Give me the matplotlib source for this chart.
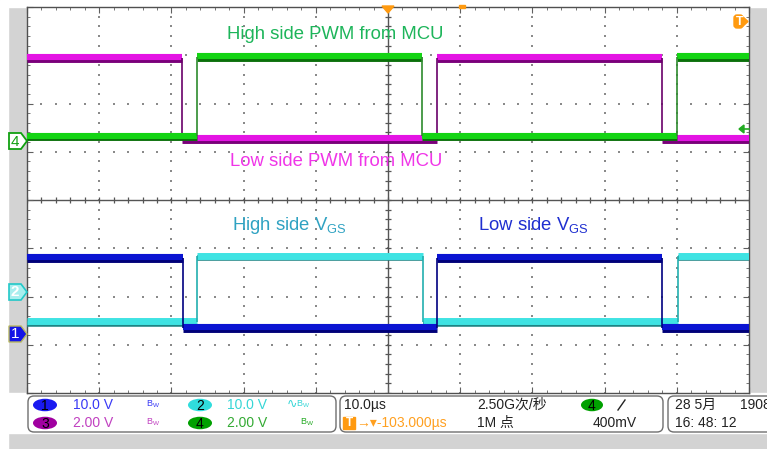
"""
Scope capture: gate drive PWM from the MCU and the resulting V_GS
(high side / low side), redrawn with matplotlib.
"""
import numpy as np
import matplotlib
matplotlib.use('Agg')
import matplotlib.pyplot as plt
from matplotlib.patches import Rectangle, Polygon, FancyBboxPatch, Ellipse

plt.rcParams['font.family'] = ['Liberation Sans', 'Noto Sans CJK SC', 'DejaVu Sans']

# ── Data: edge times (µs, 10 µs/div, centre = 0) and levels (divisions) ──────
ch1_edges = [-28.4, 6.8, 37.9]      # blue, low side V_GS, starts high
ch1_levels = (-2.65, -1.20)
ch2_edges = [-26.4, 4.8, 40.1]      # cyan, high side V_GS, starts low
ch2_levels = (-2.53, -1.17)
ch3_edges = [-28.5, 6.8, 37.9]      # magenta, low side PWM, starts high
ch3_levels = (1.27, 2.94)
ch4_edges = [-26.5, 4.7, 40.0]      # green, high side PWM, starts low
ch4_levels = (1.32, 2.96)

T_MIN, T_MAX = -50, 50
DIV_MIN, DIV_MAX = -4, 4

GRID_DOT = '#8a8a8a'
AXIS_COL = '#555555'


def draw_trace(ax, edges, levels, start_high, bright, dark, edge_col, lw=4.4, z=3):
    bounds = [T_MIN] + list(edges) + [T_MAX]
    state = start_high
    lo, hi = levels
    for a, b in zip(bounds[:-1], bounds[1:]):
        lvl = hi if state else lo
        ax.hlines(lvl - 0.04, a, b, color=dark, lw=lw * 0.8, zorder=z)
        ax.hlines(lvl + 0.015, a, b, color=bright, lw=lw, zorder=z + 0.1)
        state = not state
    for e in edges:
        ax.vlines(e, lo, hi, color=edge_col, lw=1.2, zorder=z + 0.2)


fig = plt.figure(figsize=(7.67, 4.49), dpi=100)
fig.patch.set_facecolor('#D3D3D3')

# background in pixel coordinates
bg = fig.add_axes([0, 0, 1, 1], zorder=0)
bg.set_xlim(0, 767)
bg.set_ylim(449, 0)
bg.axis('off')
bg.add_patch(Rectangle((0, 0), 8, 449, color='white'))
bg.add_patch(Rectangle((0, 0), 767, 7, color='white'))
bg.add_patch(Rectangle((8, 393), 759, 40, color='white'))

# ── Graticule ────────────────────────────────────────────────────────────────
ax = fig.add_axes([27 / 767, 56 / 449, 722 / 767, 386 / 449], zorder=1)
ax.set_xlim(T_MIN, T_MAX)
ax.set_ylim(DIV_MIN, DIV_MAX)
ax.set_facecolor('white')
for s in ax.spines.values():
    s.set_color('#505050')
    s.set_linewidth(1.0)
ax.set_xticks(np.arange(T_MIN, T_MAX + 1, 10))
ax.set_xticks(np.arange(T_MIN, T_MAX + 1, 2), minor=True)
ax.set_yticks(np.arange(DIV_MIN, DIV_MAX + 1, 1))
ax.set_yticks(np.arange(DIV_MIN, DIV_MAX + 0.01, 0.2), minor=True)
ax.tick_params(which='both', direction='in', top=True, right=True,
               labelbottom=False, labelleft=False, color='#606060')
ax.tick_params(which='major', length=4)
ax.tick_params(which='minor', length=2.5)

# dotted grid lines
minor_y = np.arange(DIV_MIN, DIV_MAX + 0.01, 0.2)
minor_x = np.arange(T_MIN, T_MAX + 0.01, 2)
for gx in range(-40, 41, 10):
    if gx != 0:
        ax.scatter(np.full_like(minor_y, gx), minor_y, s=1.2, marker='s',
                   color=GRID_DOT, linewidths=0, zorder=1)
for gy in range(-3, 4):
    if gy != 0:
        ax.scatter(minor_x, np.full_like(minor_x, gy), s=1.2, marker='s',
                   color=GRID_DOT, linewidths=0, zorder=1)

# centre cross with small ticks
ax.axhline(0, color=AXIS_COL, lw=1.0, zorder=1)
ax.axvline(0, color=AXIS_COL, lw=1.0, zorder=1)
ax.vlines(minor_x, -0.07, 0.07, color=AXIS_COL, lw=0.9, zorder=1)
ax.hlines(minor_y, -0.45, 0.45, color=AXIS_COL, lw=0.9, zorder=1)

# ── Traces ───────────────────────────────────────────────────────────────────
draw_trace(ax, ch3_edges, ch3_levels, True, '#E414E4', '#7A007A', '#6A006A', z=3)
draw_trace(ax, ch4_edges, ch4_levels, False, '#14D414', '#0A700A', '#2E8B2E', z=4)
draw_trace(ax, ch2_edges, ch2_levels, False, '#3FE3E3', '#1E8585', '#22AFAF', lw=5.0, z=3)
draw_trace(ax, ch1_edges, ch1_levels, True, '#0A14D2', '#000078', '#000080', z=4)

# ── Annotations ──────────────────────────────────────────────────────────────
ax.text(-22.3, 3.42, 'High side PWM from MCU', color='#1DB55A', fontsize=13.3,
        ha='left', va='center', zorder=6)
ax.text(-21.9, 0.80, 'Low side PWM from MCU', color='#F035E8', fontsize=13.3,
        ha='left', va='center', zorder=6)
ax.text(-21.6, -0.52, r'High side V$_{\mathregular{GS}}$', color='#2FA2C2',
        fontsize=13.3, ha='left', va='center', zorder=6)
ax.text(12.5, -0.52, r'Low side V$_{\mathregular{GS}}$', color='#1F2FD0',
        fontsize=13.3, ha='left', va='center', zorder=6)

# ── Overlay: markers and status bar (pixel coordinates) ─────────────────────
fg = fig.add_axes([0, 0, 1, 1], zorder=2)
fg.set_xlim(0, 767)
fg.set_ylim(449, 0)
fg.patch.set_alpha(0)
fg.axis('off')

# channel ground markers on the left
fg.add_patch(Polygon([(9, 133), (21, 133), (27, 141), (21, 149), (9, 149)],
                     closed=True, facecolor='white', edgecolor='#11A011', lw=1.3))
fg.text(15, 141.5, '4', color='#11A011', fontsize=11, ha='center', va='center')
fg.add_patch(Polygon([(9, 284), (21, 284), (27, 292), (21, 300), (9, 300)],
                     closed=True, facecolor='#A8EEEE', edgecolor='#22C8C8', lw=1.2))
fg.text(15, 292.5, '2', color='white', fontsize=11, ha='center', va='center',
        fontweight='bold')
fg.add_patch(Polygon([(9, 326), (21, 326), (27, 334), (21, 342), (9, 342)],
                     closed=True, facecolor='#1414E6', edgecolor='#B8B860', lw=1.0))
fg.text(15, 334.5, '1', color='white', fontsize=11, ha='center', va='center')

# trigger position / level markers
fg.add_patch(Polygon([(382, 6), (394, 6), (388, 13)], closed=True, color='#FF9A10'))
fg.add_patch(Rectangle((459, 5), 6, 3, color='#FF9A10'))
fg.add_patch(FancyBboxPatch((734, 15), 9, 13, boxstyle='round,pad=0,rounding_size=3',
                            facecolor='#FF9A10', edgecolor='#FF9A10'))
fg.add_patch(Polygon([(742, 16), (748, 21.5), (742, 27)], closed=True, color='#FF9A10'))
fg.text(739.5, 21.8, 'T', color='white', fontsize=9, ha='center', va='center',
        fontweight='bold')
fg.add_patch(Polygon([(739, 129), (744, 125), (744, 133)], closed=True, color='#22AA22'))
fg.plot([743, 749], [129, 129], color='#22AA22', lw=1.2)

# status boxes
for x0, w in [(28, 308), (340, 323), (668, 115)]:
    fg.add_patch(FancyBboxPatch((x0, 396), w, 36,
                                boxstyle='round,pad=0,rounding_size=6',
                                facecolor='white', edgecolor='#6E6E6E', lw=1.0))

ROW1, ROW2 = 405, 423
FS = 10


def badge(x, y, label, face, txt='black', w=24):
    fg.add_patch(Ellipse((x, y), w, 12.5, facecolor=face, edgecolor='none'))
    fg.text(x, y + 0.5, label, color=txt, fontsize=FS, ha='center', va='center')


def bw(x, y, col):
    fg.text(x, y, r'$\mathregular{B_W}$', color=col, fontsize=6.5, ha='left',
            va='center')


badge(45, ROW1, '1', '#1A1AF0', txt='black')
fg.text(73, ROW1, '10.0 V', color='#3A3AF5', fontsize=FS, va='center')
bw(146, ROW1 - 1, '#3A3AF5')
badge(45, ROW2, '3', '#A000A0')
fg.text(73, ROW2, '2.00 V', color='#C040C0', fontsize=FS, va='center')
bw(146, ROW2 - 1, '#C040C0')

badge(200, ROW1, '2', '#30DDDD')
fg.text(227, ROW1, '10.0 V', color='#36D6D6', fontsize=FS, va='center')
fg.text(287, ROW1, '∿', color='#36D6D6', fontsize=9, va='center')
bw(296, ROW1 - 1, '#36D6D6')
badge(200, ROW2, '4', '#00A000')
fg.text(227, ROW2, '2.00 V', color='#33AA33', fontsize=FS, va='center')
bw(300, ROW2 - 1, '#22AA22')

fg.text(344, ROW1, '10.0µs', color='#222222', fontsize=FS, va='center')
fg.text(477, ROW1, '2.50G次/秒', color='#222222', fontsize=FS, va='center')
badge(592, ROW1, '4', '#00A000', w=22)
fg.plot([618, 625], [410, 400], color='#222222', lw=1.0)
fg.add_patch(Rectangle((343, 417), 12, 12, color='#FF9A10'))
fg.text(349, ROW2 + 0.5, 'T', color='white', fontsize=8.5, ha='center',
        va='center', fontweight='bold')
fg.text(356, ROW2, '→▾-103.000µs', color='#FFA020', fontsize=FS, va='center')
fg.text(477, ROW2, '1M 点', color='#222222', fontsize=FS, va='center')
fg.text(593, ROW2, '400mV', color='#222222', fontsize=FS, va='center')

fg.text(675, ROW1, '28 5月', color='#222222', fontsize=FS, va='center')
fg.text(740, ROW1, '1908', color='#222222', fontsize=FS, va='center')
fg.text(675, ROW2, '16: 48: 12', color='#222222', fontsize=FS, va='center')

fig.savefig('out.png', dpi=100)
